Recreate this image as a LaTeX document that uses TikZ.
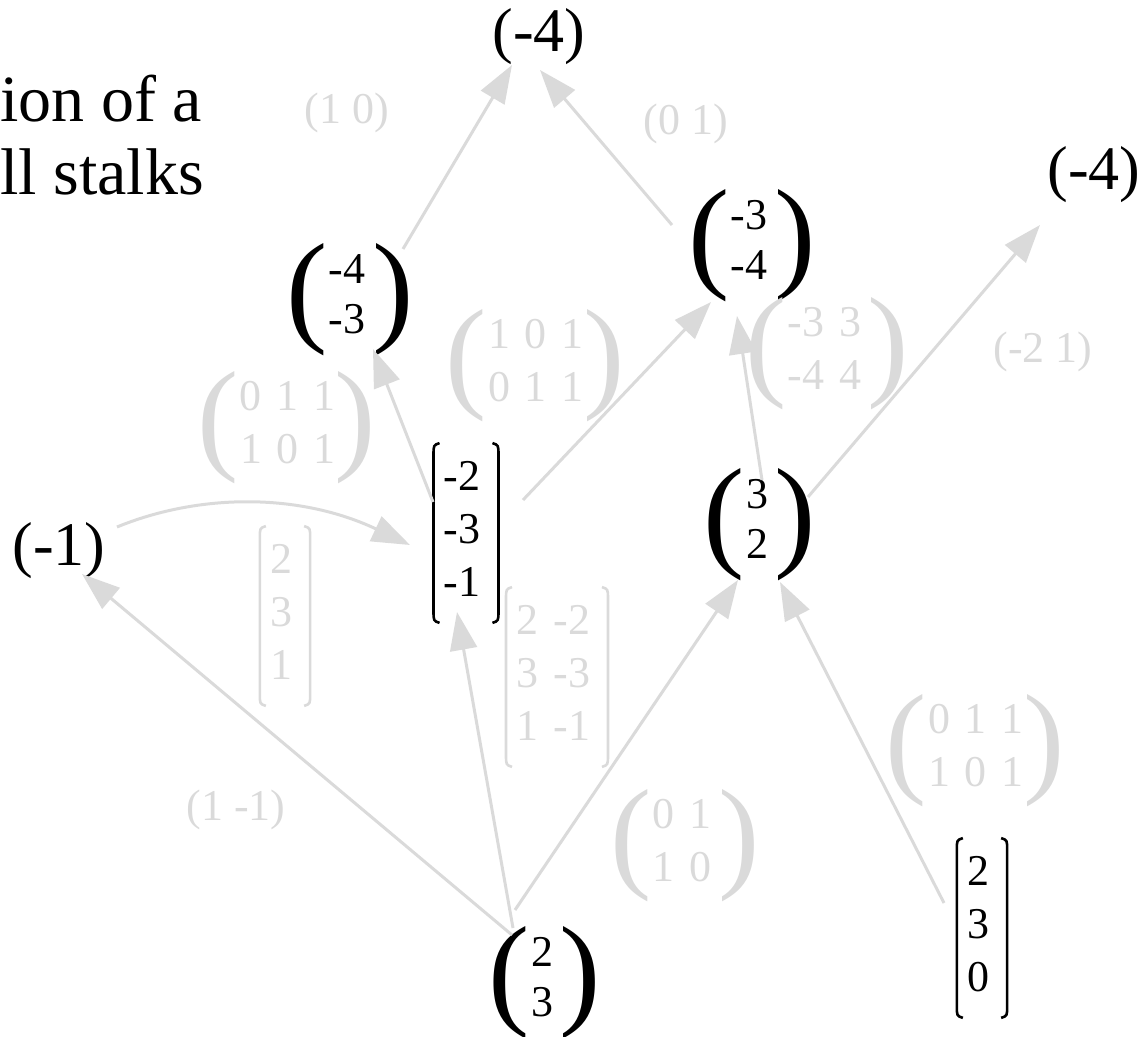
\documentclass[tikz,border=0pt]{standalone}
\usepackage{fontspec}
\setmainfont{Liberation Serif}
\usetikzlibrary{arrows.meta}
\definecolor{lightgrey}{RGB}{218,218,218}
\setlength{\tabcolsep}{3.75pt}
\newcommand{\entries}[1]{\begin{tabular}{@{}ccc@{}}#1\end{tabular}}
\newcommand{\bigparen}[1]{\raisebox{-10.5pt}{\fontsize{62}{62}\selectfont#1}}
\newcommand{\pvec}[1]{\bigparen{(}\hspace{0.5pt}\entries{#1}\hspace{-0.5pt}\bigparen{)}}
\newcommand{\colbr}[2]{%
  \draw[#2,line width=1.3pt] ([xshift=3pt]#1.north west) .. controls ([yshift=-1pt]#1.north west) .. ([yshift=-6pt]#1.north west) -- ([yshift=6pt]#1.south west) .. controls ([yshift=1pt]#1.south west) .. ([xshift=3pt]#1.south west);
  \draw[#2,line width=1.3pt] ([xshift=-3pt]#1.north east) .. controls ([yshift=-1pt]#1.north east) .. ([yshift=-6pt]#1.north east) -- ([yshift=6pt]#1.south east) .. controls ([yshift=1pt]#1.south east) .. ([xshift=-3pt]#1.south east);
}

\begin{document}
\begin{tikzpicture}[x=0.5pt,y=0.5pt,
  title/.style={font=\fontsize{33}{36}\selectfont,inner sep=0},
  big/.style={font=\fontsize{31}{37}\selectfont,inner sep=0},
  vec/.style={font=\fontsize{22}{25}\selectfont,inner sep=0},
  entry/.style={font=\fontsize{22}{26.5}\selectfont,inner sep=0},
  lbl/.style={entry,text=lightgrey},
  col/.style={inner xsep=5pt,inner ysep=5pt},
  edge/.style={draw=lightgrey,line width=1.5pt,-{Triangle[length=19pt,width=13.5pt]}}]
\useasboundingbox (0,0) rectangle (1137,-1037);

\node[title,anchor=base west] (cap1) at (0,-122) {ion of a};
\node[title,anchor=base west] (cap2) at (0,-195) {ll stalks};

\node[big] (T) at (539,-37) {(-4)};
\node[big] (R) at (1094,-175) {(-4)};
\node[big] (E) at (59,-551) {(-1)};
\node[vec] (A) at (350,-300) {\pvec{-4\\-3}};
\node[vec] (B) at (752,-246) {\pvec{-3\\-4}};
\node[vec] (D) at (760,-525) {\pvec{3\\2}};
\node[vec] (F) at (545,-983) {\pvec{2\\3}};
\node[entry,col] (C) at (466,-533) {\entries{-2\\-3\\-1}};
\node[entry,col] (G) at (982,-928) {\entries{2\\3\\0}};
\colbr{C}{black}
\colbr{G}{black}

\node[lbl] (l10) at (347,-113) {(1 0)};
\node[lbl] (l01) at (686,-124) {(0 1)};
\node[lbl] (l21) at (1043,-352) {(-2 1)};
\node[lbl] (l11) at (236,-810) {(1 -1)};
\node[lbl] (mBC) at (535,-366) {\pvec{1 & 0 & 1\\0 & 1 & 1}};
\node[lbl] (mAC) at (287,-428) {\pvec{0 & 1 & 1\\1 & 0 & 1}};
\node[lbl] (mBD) at (827,-354) {\pvec{-3 & 3\\-4 & 4}};
\node[lbl] (mDF) at (685,-846) {\pvec{0 & 1\\1 & 0}};
\node[lbl] (mDG) at (975,-751) {\pvec{0 & 1 & 1\\1 & 0 & 1}};
\node[lbl,col] (vEC) at (285,-616) {\entries{2\\3\\1}};
\node[lbl,col] (vFC) at (557,-677) {\entries{2 & -2\\3 & -3\\1 & -1}};
\colbr{vEC}{lightgrey}
\colbr{vFC}{lightgrey}

\draw[edge] ([shift={(53,51)}]A.center) -- ([shift={(-27,-28)}]T.center);
\draw[edge] ([shift={(-80,21)}]B.center) -- ([shift={(1,-33)}]T.center);
\draw[edge] ([shift={(-33,31)}]C.center) -- ([shift={(23,-49)}]A.center);
\draw[edge] ([shift={(57,33)}]C.center) -- ([shift={(-41,-56)}]B.center);
\draw[edge] ([shift={(2,45)}]D.center) -- ([shift={(-15,-70)}]B.center);
\draw[edge] ([shift={(48,28)}]D.center) -- ([shift={(-54,-50)}]R.center);
\draw[edge] ([shift={(58,24)}]E.center) .. controls +(83,34) and +(-110,52) .. ([shift={(-56,-12)}]C.center);
\draw[edge] ([shift={(-33,48)}]F.center) -- ([shift={(23,-23)}]E.center);
\draw[edge] ([shift={(-32,55)}]F.center) -- ([shift={(-9,-79)}]C.center);
\draw[edge] ([shift={(-30,73)}]F.center) -- ([shift={(-22,-55)}]D.center);
\draw[edge] ([shift={(-38,25)}]G.center) -- ([shift={(20,-57)}]D.center);
\end{tikzpicture}
\end{document}
